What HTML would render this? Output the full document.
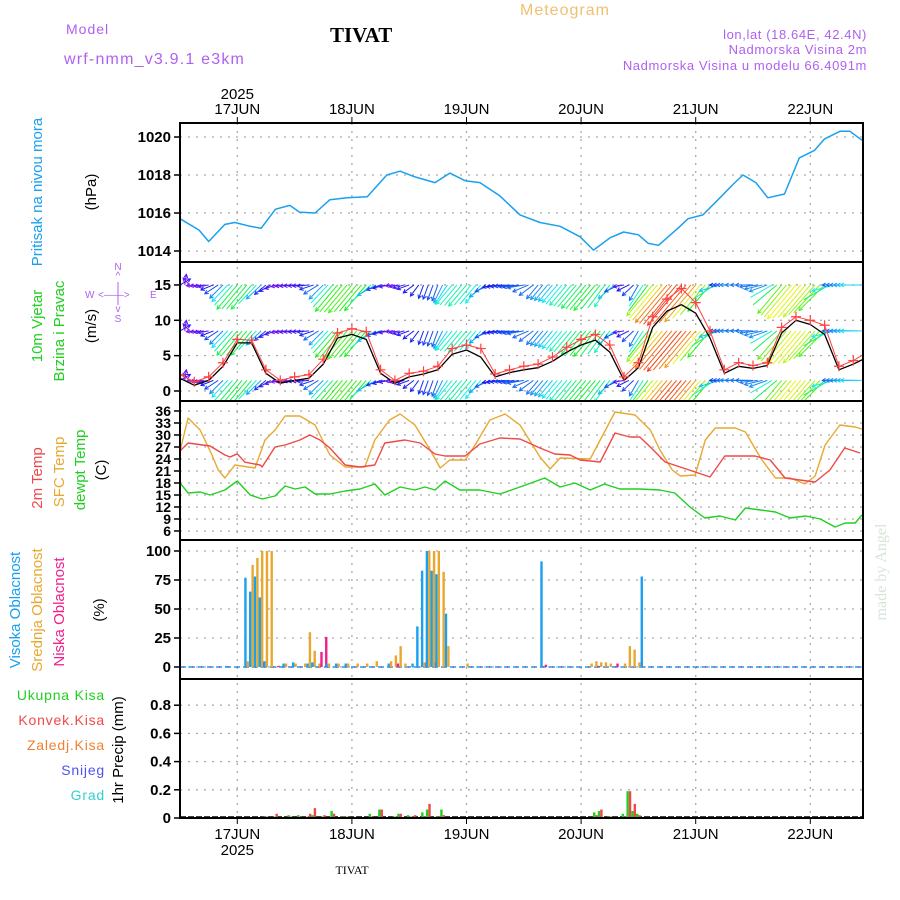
<!DOCTYPE html>
<html><head><meta charset="utf-8">
<style>
html,body{margin:0;padding:0;background:#fff;}
svg{display:block;font-family:"Liberation Sans",sans-serif;}
</style></head>
<body>
<svg id="chart" width="900" height="900" viewBox="0 0 900 900">
<g id="header">
<text x="520" y="15" fill="#f0c070" font-size="16" letter-spacing="1">Meteogram</text>
<text x="66" y="34" fill="#b060f0" font-size="14" letter-spacing="1">Model</text>
<text x="330" y="42" fill="#000" font-size="21" font-weight="bold" font-family="Liberation Serif,serif">TIVAT</text>
<text x="64" y="64" fill="#b060f0" font-size="16" letter-spacing="1.2">wrf-nmm_v3.9.1 e3km</text>
<text x="867" y="39" fill="#b060f0" font-size="13" text-anchor="end" letter-spacing="0.6">lon,lat (18.64E, 42.4N)</text>
<text x="867" y="54" fill="#b060f0" font-size="13" text-anchor="end" letter-spacing="0.6">Nadmorska Visina 2m</text>
<text x="867" y="70" fill="#b060f0" font-size="13" text-anchor="end" letter-spacing="0.6">Nadmorska Visina u modelu 66.4091m</text>
</g>
<g id="labels">
<text transform="translate(42,192) rotate(-90)" fill="#19a0f0" font-size="15" text-anchor="middle">Pritisak na nivou mora</text>
<text transform="translate(96,192) rotate(-90)" fill="#000" font-size="15" text-anchor="middle">(hPa)</text>
<text transform="translate(42,326) rotate(-90)" fill="#20d020" font-size="15" text-anchor="middle">10m Vjetar</text>
<text transform="translate(64,331) rotate(-90)" fill="#20d020" font-size="15" text-anchor="middle">Brzina i Pravac</text>
<text transform="translate(96,326) rotate(-90)" fill="#000" font-size="15" text-anchor="middle">(m/s)</text>
<g fill="#b060f0" font-size="10">
<text x="118" y="270" text-anchor="middle">N</text><text x="118" y="279" text-anchor="middle">^</text>
<text x="85" y="298">W</text><text x="98" y="298">&lt;——&gt;</text><text x="150" y="298">E</text>
<text x="118" y="312" text-anchor="middle">v</text><text x="118" y="322" text-anchor="middle">S</text>
<line x1="118" y1="282" x2="118" y2="305" stroke="#b060f0"/>
</g>
<text transform="translate(42,478) rotate(-90)" fill="#f04848" font-size="15" text-anchor="middle">2m Temp</text>
<text transform="translate(64,472) rotate(-90)" fill="#e8a830" font-size="15" text-anchor="middle">SFC Temp</text>
<text transform="translate(85,470) rotate(-90)" fill="#20d020" font-size="15" text-anchor="middle">dewpt Temp</text>
<text transform="translate(106,470) rotate(-90)" fill="#000" font-size="15" text-anchor="middle">(C)</text>
<text transform="translate(20,610) rotate(-90)" fill="#19a0f0" font-size="15" text-anchor="middle">Visoka Oblacnost</text>
<text transform="translate(42,610) rotate(-90)" fill="#e8a830" font-size="15" text-anchor="middle">Srednja Oblacnost</text>
<text transform="translate(64,612) rotate(-90)" fill="#f0208c" font-size="15" text-anchor="middle">Niska Oblacnost</text>
<text transform="translate(104,610) rotate(-90)" fill="#000" font-size="15" text-anchor="middle">(%)</text>
<g font-size="14" text-anchor="end" letter-spacing="0.8">
<text x="105" y="700" fill="#20d020">Ukupna Kisa</text>
<text x="105" y="725" fill="#f04848">Konvek.Kisa</text>
<text x="105" y="750" fill="#f08030">Zaledj.Kisa</text>
<text x="105" y="775" fill="#5050f0">Snijeg</text>
<text x="105" y="800" fill="#30d0d0">Grad</text>
</g>
<text transform="translate(123,750) rotate(-90)" fill="#000" font-size="15" text-anchor="middle">1hr Precip (mm)</text>
<text transform="translate(886,572) rotate(-90)" fill="#d8e4d8" font-size="16" font-family="Liberation Serif,serif" text-anchor="middle">made by Angel</text>
<text x="352" y="874" fill="#000" font-size="12" font-family="Liberation Serif,serif" text-anchor="middle">TIVAT</text>
</g>
<g id="plot"></g>
</svg>
<script>
// time axis (hours from 16 JUN 12Z)
const dayLabels = ["17JUN","18JUN","19JUN","20JUN","21JUN","22JUN"];
const dayHours = [12,36,60,84,108,132];
// pressure
const presHours = [0,4,6,9.4,11.5,14.7,17,20,23,25,28.3,31.4,35,39.2,43.3,46.1,49.2,53.4,56.5,59.7,62.8,67,71.2,75.4,79.6,83.8,86.6,90.1,92.9,96,98.1,100.2,104.3,106.4,109.5,112.7,115.8,117.9,120.6,123.1,126.6,129.7,132.9,135,138.2,140.3,143]; 
const pressure = [1015.7,1015.1,1014.5,1015.4,1015.5,1015.3,1015.2,1016.2,1016.4,1016.05,1016,1016.7,1016.8,1016.85,1018,1018.2,1017.9,1017.6,1018.1,1017.7,1017.6,1016.9,1015.9,1015.5,1015.3,1014.75,1014.05,1014.7,1015,1014.85,1014.4,1014.3,1015.2,1015.7,1015.9,1016.7,1017.5,1018,1017.6,1016.8,1017,1018.9,1019.3,1019.9,1020.3,1020.3,1019.8];
const presTicks = [1014,1016,1018,1020];
// wind (3-hourly)
const windHours = [0,3,6,9,12,15,18,21,24,27,30,33,36,39,42,45,48,51,54,57,60,63,66,69,72,75,78,81,84,87,90,93,96,99,102,105,108,111,114,117,120,123,126,129,132,135,138,141,144];
const windSpeed = [1.8,0.8,1.5,3.5,6.8,6.8,2.5,1.1,1.5,1.8,3.8,7.5,8.0,7.3,2.5,1.1,2,2.4,3,5.2,5.8,4.8,2,2.6,3,3.3,4.2,5.5,6.5,7.2,5.5,1.5,3.3,9,11.3,12.2,11,7.5,2.5,3.5,3.2,3.6,8.2,10,9.4,8,3,3.8,4.8];
const windGust = [2.3,1.3,2,4,7.3,7.2,3,1.5,2,2.3,4.5,8.2,8.8,8.4,3,1.5,2.5,2.8,3.5,6,6.5,6,2.4,3,3.5,3.8,4.8,6.2,7.3,8,6.5,2,4,10.5,13,14.5,12.5,8.5,3,4,3.6,4,9,10.5,10,9.3,3.5,4.3,5.5];
const windDir = [30,185,190,225,230,230,220,190,185,185,225,230,230,230,200,185,200,250,250,230,230,230,190,185,190,230,230,230,230,230,235,190,240,230,230,230,230,230,180,180,180,200,230,230,230,225,180,180,180];
const windRowLevels = [1.5,8.5,15];
const windTicks = [0,5,10,15];
// temperature
const t2Hours = [0,1.7,6.3,9.4,10.5,12,13.6,16.8,17.2,19.9,22,25.1,27.2,29.3,31.4,34.6,37.7,40.8,42.9,47.1,50.3,53.4,55.5,59.7,62.8,67,71.2,75.4,78.5,81.7,83.8,88,91.1,94.2,96.3,98.5,101.6,107.9,111,114.1,117.3,120.4,123.6,126.7,129.8,133,136.1,139.2,142.4];
const temp2m = [26,28,27.25,25,24.5,25.3,23.2,22.5,22,27,27.5,28.75,30,28.75,26.75,22.5,22,22.5,28,28.75,28,25.25,24.75,24.75,27.75,29.25,29,26.75,25.25,25,23.75,23.25,30.5,29.5,29.5,27,23.25,20.75,19.5,24.75,24.75,24.75,23.75,19.25,18.75,18.25,21.25,26.75,25.5];
const sfcHours = [0,1.7,4.2,6.7,8,9.4,11.5,15.7,17.8,19.9,22,25.1,28.3,31.4,34.6,38.7,40.8,43.9,46.1,49.2,52.4,54.5,56.5,59.7,61.8,64.9,68.1,71.2,75.4,77.5,79.6,85.9,88,91.1,95.3,98.5,100.5,103.1,104.8,107.9,110,112.1,116.3,118.4,121.6,124.7,127.8,130.9,133,135.1,138.2,141.4,143.6];
const tempSfc = [26,34.25,31.25,25,21.25,19.25,22.5,21.75,28.75,31.25,34.75,34.75,32.5,25,22,22,28.75,33.75,35.25,32.5,26.25,21.75,23.75,23.75,27.5,33.75,35.25,32.5,24.5,21.5,24.25,24,28.75,35.75,35,31.25,26.25,21.25,19.75,20,28.75,31.75,31.75,30.75,24.25,19.25,19.25,17.75,19.75,27.5,32.5,32,31.25];
const dewHours = [0,1.7,4.2,6.3,9.4,12,14.7,17.2,19.9,22,24.1,26.2,28.3,31.4,34.6,37.7,40.8,42.9,46.1,49.2,51.3,53.4,55.5,58.6,62.8,67,71.2,76.4,79.6,82.7,85.9,88.9,92.1,96.3,100.5,103.6,106.8,109.9,113.1,116.3,118.4,121.6,124.7,127.8,131,134.1,137.2,139.3,141.4,142.8];
const dewpt = [18,15.5,15.75,15,16.25,18.5,15,14,14.75,17.25,16.5,17,15.25,15.25,16,16.5,17.75,15,17,16.25,17,16.25,18.5,16.25,16.25,15.25,17,19.25,17,18,16.25,17.75,16.5,16.5,16.25,15.5,12,9.25,9.75,8.75,11.75,11.25,10.75,9.25,9.75,9,7,8,8,10];
const tempTicks = [6,9,12,15,18,21,24,27,30,33,36];
// clouds (sparse hourly)
const cloudHours = [1,10,14,15,16,17,18,19,20,22,24,26,27,28,29,30,31,33,35,37,39,41,44,45,46,47,49,50,51,52,53,54,55,56,57,60,76,86,87,88,89,90,91,93,94,95,96,97];
const highCloud = [0,1,77,65,78,60,5,0,0,3,4,0,3,4,0,0,3,3,3,0,0,0,3,0,0,0,3,35,83,100,83,80,0,46,0,0,91,0,0,0,0,0,0,0,0,0,0,78];
const midCloud = [0,0,5,88,94,100,100,100,0,3,3,3,30,14,3,0,3,3,3,3,3,5,5,10,18,3,0,0,4,100,100,100,82,18,0,3,0,3,5,4,4,3,0,3,18,15,4,0];
const lowCloud = [0,0,0,0,0,4,0,0,1,0,0,0,0,0,13,26,0,0,0,0,0,0,0,3,0,0,0,0,4,0,4,0,0,0,0,0,2,0,1,0,0,0,3,0,0,0,0,0];
const cloudTicks = [0,25,50,75,100];
// precipitation
const precipHours = [18,20,23,25,27,28,30,32,34,35,40,42,45,46,48,49,51,52,54,55,87,88,90,93,94,95,96];
const precipTotal = [0.01,0.01,0.02,0.02,0.01,0.02,0.01,0.05,0.01,0.01,0.03,0.06,0.01,0.03,0.02,0.01,0.04,0.06,0.01,0.06,0.04,0.05,0.01,0.03,0.19,0.05,0.03];
const precipConv = [0.01,0.03,0.01,0.01,0.03,0.07,0.02,0.03,0.01,0.01,0.01,0.06,0.01,0.03,0.01,0.02,0.01,0.1,0.01,0.02,0.02,0.06,0.01,0.01,0.19,0.1,0.02];
const precipTicks = [0,0.2,0.4,0.6,0.8];

const NS = "http://www.w3.org/2000/svg";
const plot = document.getElementById("plot");
const X0 = 180, X1 = 863, PXH = 4.775;
const xS = h => X0 + h * PXH;
const yPres = v => 251 - (v - 1014) * 19;
const yWind = v => 391 - v * 7.07;
const yTemp = v => 411 + (36 - v) * 4;
const yCloud = v => 667 - v * 1.16;
const yPrec = v => 818 - v * 141;
const panels = [[123,262],[262,401],[401,540],[540,679],[679,818]];

function mk(tag, attrs, parent) {
  const e = document.createElementNS(NS, tag);
  for (const k in attrs) e.setAttribute(k, attrs[k]);
  (parent || plot).appendChild(e);
  return e;
}
function clipFor(i) {
  const cp = mk("clipPath", {id: "clip" + i});
  mk("rect", {x: X0, y: panels[i][0], width: X1 - X0, height: panels[i][1] - panels[i][0]}, cp);
}
panels.forEach((p, i) => clipFor(i));

// grids
const grid = mk("g", {stroke: "#aaa", "stroke-dasharray": "2,6", "stroke-width": "1.3"});


dayHours.forEach(h => mk("line", {x1: xS(h), x2: xS(h), y1: 123, y2: 818}, grid));
function hTicks(ticks, yf, panelIdx, fmt, name, fs) {
  const g = mk("g", {});
  
  
  ticks.forEach(t => {
    const y = yf(t);
    mk("line", {x1: X0, x2: X1, y1: y, y2: y, stroke: "#aaa", "stroke-dasharray": "2,6", "stroke-width": "1.3"}, g);
    mk("line", {x1: X0 - 6, x2: X0, y1: y, y2: y, stroke: "#000", "stroke-width": 1.5}, g);
    const tx = mk("text", {x: X0 - 9, y: y + 5, "text-anchor": "end", "font-size": fs, "font-weight": "bold"}, g);
    tx.textContent = fmt(t);
  });
}
hTicks(presTicks, yPres, 0, t => t, "pressure-y-axis", 15);
hTicks(windTicks, yWind, 1, t => t, "wind-y-axis", 15);
hTicks(tempTicks, yTemp, 2, t => t, "temp-y-axis", 14);
hTicks(cloudTicks, yCloud, 3, t => t, "cloud-y-axis", 15);
hTicks(precipTicks, yPrec, 4, t => (t === 0 ? "0" : t.toFixed(1)), "precip-y-axis", 15);

// day labels
const xa = mk("g", {"font-size": 15, "text-anchor": "middle"});


dayHours.forEach((h, i) => {
  const x = xS(h);
  let t = mk("text", {x: x, y: 114}, xa); t.textContent = dayLabels[i];
  t = mk("text", {x: x, y: 839}, xa); t.textContent = dayLabels[i];
  mk("line", {x1: x, x2: x, y1: 117, y2: 123, stroke: "#000"}, xa);
  mk("line", {x1: x, x2: x, y1: 818, y2: 824, stroke: "#000"}, xa);
});
let yr = mk("text", {x: xS(dayHours[0]), y: 99}, xa); yr.textContent = "2025";
yr = mk("text", {x: xS(dayHours[0]), y: 855}, xa); yr.textContent = "2025";

function line(hs, vs, yf, color, name, clip, w) {
  const d = hs.map((h, i) => (i ? "L" : "M") + xS(h).toFixed(1) + "," + yf(vs[i]).toFixed(1)).join("");
  const p = mk("path", {d: d, fill: "none", stroke: color, "stroke-width": w || 1.4, "clip-path": "url(#clip" + clip + ")", "stroke-linejoin": "round"});
  
  
  return p;
}
// pressure
line(presHours, pressure, yPres, "#19a0f0", "pressure-line", 0, 1.5);

// wind arrows
function interp(hs, vs, h) {
  for (let i = 0; i < hs.length - 1; i++) {
    if (h >= hs[i] && h <= hs[i + 1]) { const f = (h - hs[i]) / (hs[i + 1] - hs[i]); return vs[i] + f * (vs[i + 1] - vs[i]); }
  }
  return vs[vs.length - 1];
}
function spdColor(v) { const hue = Math.max(0, Math.min(275, 290 - v * 23)); return "hsl(" + hue + ",90%,52%)"; }
const wg = mk("g", {"clip-path": "url(#clip1)", "stroke-width": 1});


windRowLevels.forEach(lv => {
  const y0 = yWind(lv);
  for (let h = 0; h <= 143; h += 1) {
    const v = interp(windHours, windSpeed, h);
    const a = interp(windHours, windDir, h) * Math.PI / 180;
    const L = 5 + v * 3.9;
    const x0 = xS(h);
    const x1 = x0 + L * Math.cos(a), y1 = y0 - L * Math.sin(a);
    const c = spdColor(v);
    const ln = mk("line", {x1: x0, y1: y0, x2: x1, y2: y1, stroke: c}, wg);
    
    
    if (v < 5 || h % 3 === 0) {
      const b1 = a + Math.PI - 0.5, b2 = a + Math.PI + 0.5;
      mk("path", {d: `M${x1 + 4 * Math.cos(b1)},${y1 - 4 * Math.sin(b1)}L${x1},${y1}L${x1 + 4 * Math.cos(b2)},${y1 - 4 * Math.sin(b2)}`, fill: "none", stroke: c}, wg);
    }
  }
});
// speed & gust
line(windHours, windSpeed, yWind, "#000", "wind-speed-line", 1, 1.3);
line(windHours, windGust, yWind, "#ff4040", "wind-gust-line", 1, 1);
const cg = mk("g", {stroke: "#ff4040", "stroke-width": 1.2, "clip-path": "url(#clip1)"});


windHours.forEach((h, i) => {
  const x = xS(h), y = yWind(windGust[i]);
  mk("path", {d: `M${x - 5},${y}H${x + 5}M${x},${y - 5}V${y + 5}`}, cg);
});

// temps
line(sfcHours, tempSfc, yTemp, "#e8a830", "sfc-temp-line", 2, 1.4);
line(t2Hours, temp2m, yTemp, "#f04848", "temp-2m-line", 2, 1.4);
line(dewHours, dewpt, yTemp, "#20d020", "dewpt-line", 2, 1.4);

// clouds
const cb = mk("g", {"clip-path": "url(#clip3)"});


mk("line", {x1: X0, x2: X1, y1: 667, y2: 667, stroke: "#19a0f0", "stroke-width": 1.5, "stroke-dasharray": "6,3"}, cb);
mk("line", {x1: X0 + 3, x2: X1, y1: 667, y2: 667, stroke: "#f0208c", "stroke-width": 1.5, "stroke-dasharray": "1,8"}, cb);
cloudHours.forEach((h, i) => {
  const x = xS(h);
  [[highCloud[i], "#19a0f0", -2.6, 'bar-high-cloud'], [midCloud[i], "#e8a830", -0.2, 'bar-mid-cloud'], [lowCloud[i], "#f0208c", 1.8, 'bar-low-cloud']].forEach(s => {
    if (s[0] <= 0) return;
    const r = mk("rect", {x: x + s[2], y: yCloud(s[0]), width: 2.4, height: 667 - yCloud(s[0]), fill: s[1]}, cb);
    
    
  });
});

// precip
const pb = mk("g", {"clip-path": "url(#clip4)"});


mk("line", {x1: X0, x2: X1, y1: 817, y2: 817, stroke: "#000", "stroke-width": 1.5, "stroke-dasharray": "6,2"}, pb);
precipHours.forEach((h, i) => {
  const x = xS(h);
  let r = mk("rect", {x: x - 2.4, y: yPrec(precipTotal[i]), width: 2.4, height: 818 - yPrec(precipTotal[i]), fill: "#20d020"}, pb);
  
  
  r = mk("rect", {x: x, y: yPrec(precipConv[i]), width: 2.4, height: 818 - yPrec(precipConv[i]), fill: "#f04848"}, pb);
  
  
});

// frames
const fr = mk("g", {fill: "none", stroke: "#000", "stroke-width": 2});


panels.forEach(p => mk("rect", {x: X0, y: p[0], width: X1 - X0, height: p[1] - p[0]}, fr));
</script>
</body></html>
